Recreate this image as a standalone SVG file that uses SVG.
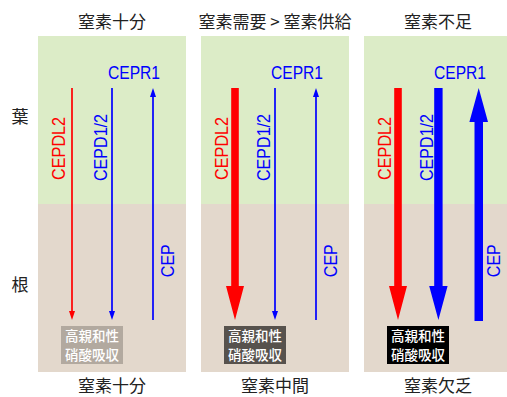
<svg xmlns="http://www.w3.org/2000/svg" width="507" height="397" viewBox="0 0 507 397">
<style>
.leaf{fill:#dcecc7}
.root{fill:#e3d8cc}
.title{font-family:"Noto Sans CJK JP","Liberation Sans",sans-serif;font-size:17px;fill:#222;text-anchor:middle}
.side{font-family:"Noto Sans CJK JP","Liberation Sans",sans-serif;font-size:17px;fill:#222;text-anchor:middle}
.lbl{font-family:"Liberation Sans",Arial,sans-serif;font-size:18px;text-anchor:middle}
.red{fill:#ff0000}
.blue{fill:#0000ff}
.box{font-family:"Noto Sans CJK JP",sans-serif;font-size:13.5px;font-weight:500;fill:#fff;text-anchor:middle}
.thinR{stroke:#ff0000;stroke-width:1.7;fill:none}
.thinB{stroke:#0000ff;stroke-width:1.7;fill:none}
</style>
<rect width="507" height="397" fill="#fff"/>
<g id="side-labels">
<text class="side" x="20" y="123">葉</text>
<text class="side" x="20" y="291">根</text>
</g>
<g id="panel1">
<rect class="leaf" x="38" y="36" width="148" height="168"/>
<rect class="root" x="38" y="204" width="148" height="168"/>
<text class="title" x="112" y="28">窒素十分</text>
<text class="title" x="112" y="392">窒素十分</text>
</g>
<g id="panel2">
<rect class="leaf" x="201" y="36" width="148" height="168"/>
<rect class="root" x="201" y="204" width="148" height="168"/>
<text class="title" x="275" y="28">窒素需要 &gt; 窒素供給</text>
<text class="title" x="275" y="392">窒素中間</text>
</g>
<g id="panel3">
<rect class="leaf" x="364" y="36" width="148" height="168"/>
<rect class="root" x="364" y="204" width="148" height="168"/>
<text class="title" x="438" y="28">窒素不足</text>
<text class="title" x="438" y="392">窒素欠乏</text>
</g>
<g id="connectors">
<!-- panel 1 -->
<line class="thinR" x1="72" y1="88" x2="72" y2="312"/>
<polygon class="red" points="69,311 75,311 72,320"/>
<line class="thinB" x1="112" y1="88" x2="112" y2="312"/>
<polygon class="blue" points="109,311 115,311 112,320"/>
<line class="thinB" x1="153" y1="96" x2="153" y2="320"/>
<polygon class="blue" points="150,97 156,97 153,88"/>
<!-- panel 2 -->
<polygon class="red" points="231.2,88 238.8,88 238.8,286 244,286 235,320 226,286 231.2,286"/>
<line class="thinB" x1="275" y1="88" x2="275" y2="312"/>
<polygon class="blue" points="272,311 278,311 275,320"/>
<line class="thinB" x1="316" y1="96" x2="316" y2="320"/>
<polygon class="blue" points="313,97 319,97 316,88"/>
<!-- panel 3 -->
<polygon class="red" points="394.2,88 401.8,88 401.8,286 407,286 398,320 389,286 394.2,286"/>
<polygon class="blue" points="434.2,88 442.6,88 442.6,286 447.6,286 438.4,320 429.2,286 434.2,286"/>
<polygon class="blue" points="474.5,321 474.5,122 469.4,122 478.7,88 488,122 483,122 483,321"/>
</g>
<g id="labels-panel1">
<text class="lbl" x="134" y="79" fill="#0000ff" textLength="52" lengthAdjust="spacingAndGlyphs">CEPR1</text>
<text class="lbl" transform="translate(65,148.4) rotate(-90)" fill="#ff0000" textLength="63" lengthAdjust="spacingAndGlyphs">CEPDL2</text>
<text class="lbl" transform="translate(107.3,147.5) rotate(-90)" fill="#0000ff" textLength="67" lengthAdjust="spacingAndGlyphs">CEPD1/2</text>
<text class="lbl" transform="translate(174,260.7) rotate(-90)" fill="#0000ff" textLength="33" lengthAdjust="spacingAndGlyphs">CEP</text>
</g>
<g id="labels-panel2">
<text class="lbl" x="297" y="79" fill="#0000ff" textLength="52" lengthAdjust="spacingAndGlyphs">CEPR1</text>
<text class="lbl" transform="translate(228,148.4) rotate(-90)" fill="#ff0000" textLength="63" lengthAdjust="spacingAndGlyphs">CEPDL2</text>
<text class="lbl" transform="translate(270.3,147.5) rotate(-90)" fill="#0000ff" textLength="67" lengthAdjust="spacingAndGlyphs">CEPD1/2</text>
<text class="lbl" transform="translate(337,260.7) rotate(-90)" fill="#0000ff" textLength="33" lengthAdjust="spacingAndGlyphs">CEP</text>
</g>
<g id="labels-panel3">
<text class="lbl" x="460" y="79" fill="#0000ff" textLength="52" lengthAdjust="spacingAndGlyphs">CEPR1</text>
<text class="lbl" transform="translate(391,148.4) rotate(-90)" fill="#ff0000" textLength="63" lengthAdjust="spacingAndGlyphs">CEPDL2</text>
<text class="lbl" transform="translate(433.3,147.5) rotate(-90)" fill="#0000ff" textLength="67" lengthAdjust="spacingAndGlyphs">CEPD1/2</text>
<text class="lbl" transform="translate(500,260.7) rotate(-90)" fill="#0000ff" textLength="33" lengthAdjust="spacingAndGlyphs">CEP</text>
</g>
<g id="nitrate-box1">
<rect x="61" y="326" width="62" height="38" fill="#b2a99f"/>
<text class="box" x="92" y="341">高親和性</text>
<text class="box" x="92" y="360">硝酸吸収</text>
</g>
<g id="nitrate-box2">
<rect x="224" y="326" width="62" height="38" fill="#57524d"/>
<text class="box" x="255" y="341">高親和性</text>
<text class="box" x="255" y="360">硝酸吸収</text>
</g>
<g id="nitrate-box3">
<rect x="387" y="326" width="62" height="38" fill="#000"/>
<text class="box" x="418" y="341">高親和性</text>
<text class="box" x="418" y="360">硝酸吸収</text>
</g>
</svg>
